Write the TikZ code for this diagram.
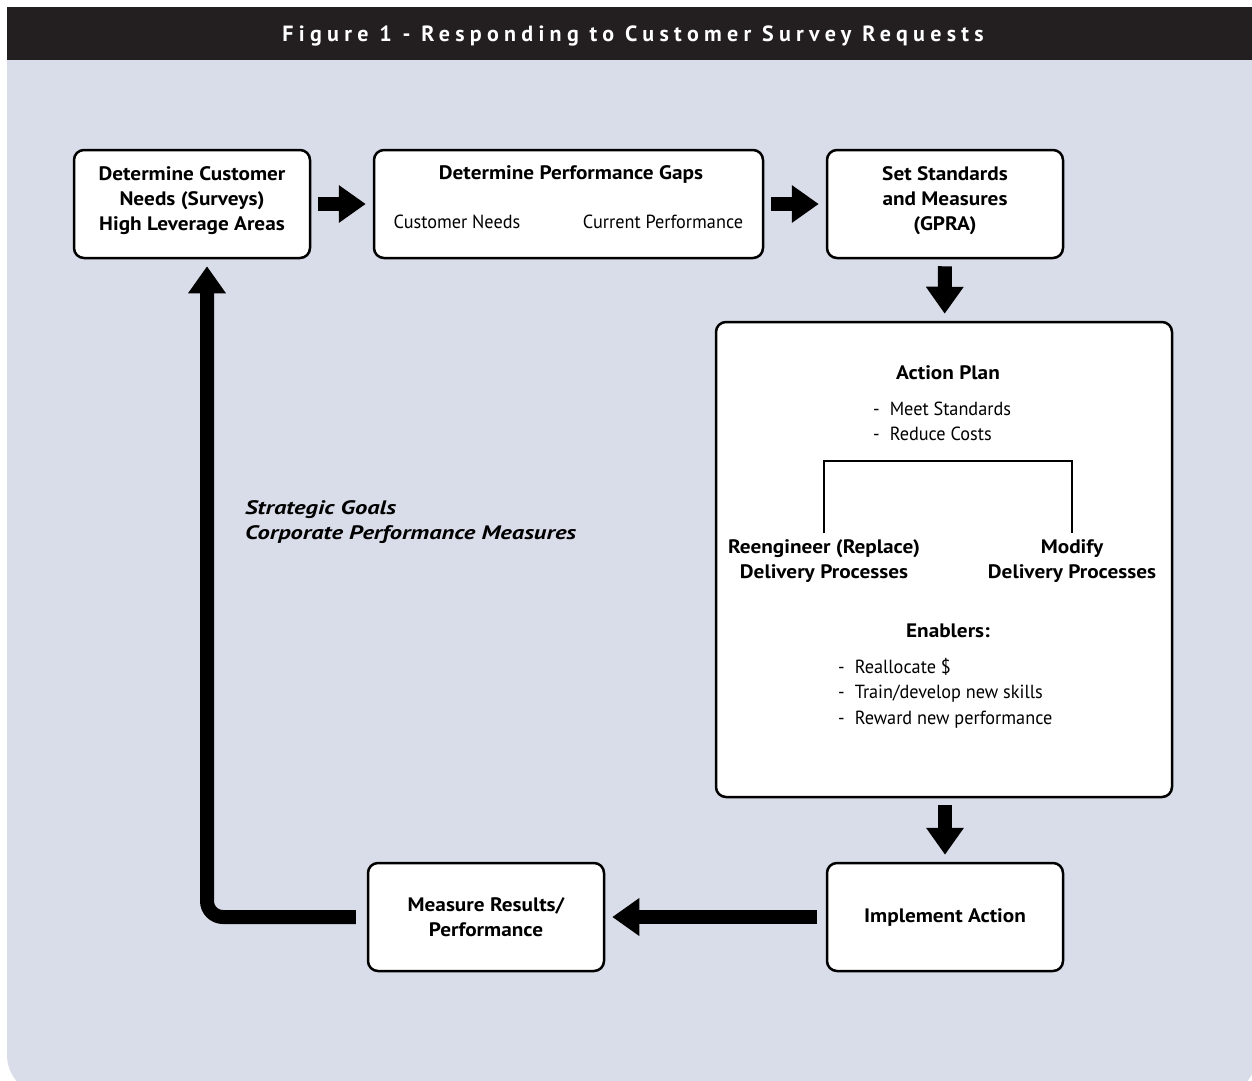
\documentclass[tikz,border=0pt]{standalone}
\usepackage{fontspec}
\setmainfont{PT Sans}
\newfontfamily\narrowfont[FakeStretch=0.96]{PT Sans}
\newfontfamily\widefont[FakeStretch=1.09]{PT Sans}
\newfontfamily\italfont[FakeStretch=1.26]{PT Sans}
\newfontfamily\titlefont[LetterSpace=24]{PT Sans}
\usetikzlibrary{arrows.meta}

\definecolor{panelblue}{HTML}{D9DDE9}
\definecolor{barblack}{HTML}{231F20}

\tikzset{
  stepbox/.style={draw, line width=2.5pt, rounded corners=10pt, fill=white,
    minimum width=236pt, minimum height=108pt, inner sep=0pt, align=center,
    font=\widefont\bfseries\fontsize{19.5}{25}\selectfont},
  boldtxt/.style={font=\widefont\bfseries\fontsize{19.5}{25}\selectfont, align=center, inner sep=0pt},
  lighttxt/.style={font=\narrowfont\fontsize{19}{25.5}\selectfont, align=left, inner sep=0pt},
  bigarrow/.style={line width=14pt, -{Triangle[length=27pt,width=36pt]},
    shorten <=7pt, shorten >=7pt},
}

\begin{document}
\begin{tikzpicture}[x=1pt,y=-1pt]

	\useasboundingbox (0,0) rectangle (1252,1080);

        % background panel and title bar
        \fill[panelblue] (7,60) rectangle (1257,1000);
        \fill[panelblue, rounded corners=40pt] (7,900) rectangle (1257,1095);
        \fill[barblack] (7,7) rectangle (1252,60);
        \node[text=white, font=\titlefont\bfseries\fontsize{22}{26}\selectfont] (title) at (633,36)
             {Figure 1 - Responding to Customer Survey Requests};

        % top row
        \node[stepbox, text depth=10pt] (needs) at (192,204)
             {Determine Customer\\Needs (Surveys)\\High Leverage Areas};
        \node[stepbox, minimum width=389pt] (gaps) at (568.5,204) {};
        \node[boldtxt] (gapstitle) at (571,174) {Determine Performance Gaps};
        \node[lighttxt] (custneeds) at (457,222) {Customer Needs};
        \node[lighttxt] (curperf) at (663,222) {Current Performance};
        \node[stepbox, text depth=10pt] (standards) at (945,204)
             {Set Standards\\and Measures\\(GPRA)};

        % action plan
        \node[stepbox, minimum width=456pt, minimum height=475pt] (plan) at (944,559.5) {};
        \node[boldtxt] (plantitle) at (948,373) {Action Plan};
        \node[lighttxt, anchor=west] (goals) at (873,421.5)
             {-\hspace{10pt}Meet Standards\\-\hspace{10pt}Reduce Costs};
        \node[boldtxt] (reeng) at (824,561) {Reengineer (Replace)\\Delivery Processes};
        \node[boldtxt] (modify) at (1072,561) {Modify\\Delivery Processes};
        \coordinate (split) at (948,461);
        \draw[line width=2.5pt, shorten <=6pt] (reeng.north) |- (split) -| ([yshift=6pt]modify.north);
        \node[boldtxt] (enablers) at (948,631) {Enablers:};
        \node[lighttxt, anchor=west] (enablist) at (838,693)
             {-\hspace{10pt}Reallocate \$\\-\hspace{10pt}Train/develop new skills\\-\hspace{10pt}Reward new performance};

        % bottom row
        \node[stepbox] (implement) at (945,917) {Implement Action};
        \node[stepbox] (measure) at (486,917) {Measure Results/\\Performance};

        % strategic goals
        \node[boldtxt, font=\italfont\bfseries\itshape\fontsize{19.5}{25}\selectfont, align=left, anchor=west]
             (strategic) at (245,522) {Strategic Goals\\Corporate Performance Measures};

        % arrows
        \draw[bigarrow] (needs) -- (gaps);
        \draw[bigarrow] (gaps) -- (standards);
        \draw[bigarrow] (standards) -- (plan);
        \draw[bigarrow] (plan.south -| standards) -- (implement);
        \draw[bigarrow, shorten <=9pt] (implement) -- (measure);
        \draw[bigarrow, shorten <=11pt, rounded corners=16pt]
             (measure.west) -| ([xshift=15pt]needs.south);

\end{tikzpicture}
\end{document}
